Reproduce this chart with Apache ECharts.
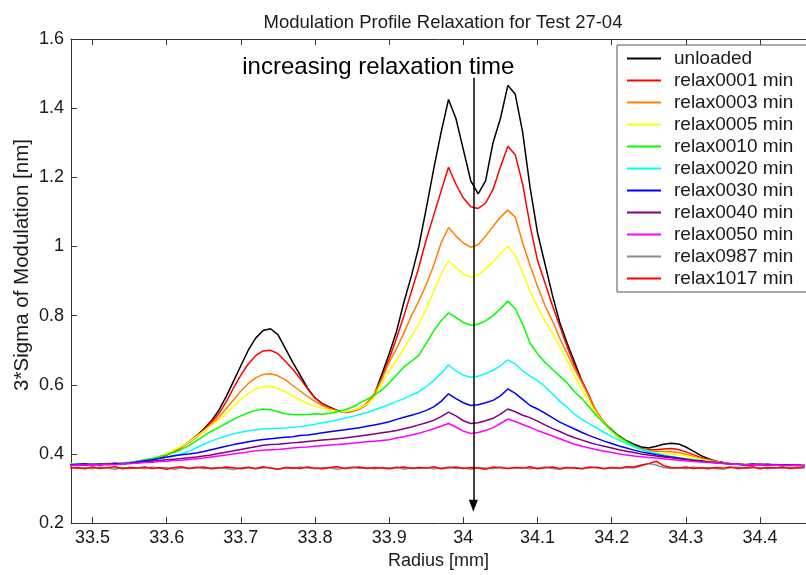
<!DOCTYPE html>
<html>
<head>
<meta charset="utf-8">
<script src="https://cdn.jsdelivr.net/npm/echarts@6/dist/echarts.min.js"></script>
<style>html,body{margin:0;padding:0;background:#fff;}#c{width:806px;height:575px;}</style>
</head>
<body>
<div id="c"></div>
<script>
const titleText = "Modulation Profile Relaxation for Test 27-04";
const xName = "Radius [mm]";
const yName = "3*Sigma of Modulation [nm]";
const annotation = "increasing relaxation time";
const arrowX = 34.0135;
const arrowFrom = 1.488;
const arrowTo = 0.25;

const radius = [
33.47,33.48,33.49,33.50,33.51,33.52,33.53,33.54,33.55,33.56,
33.57,33.58,33.59,33.60,33.61,33.62,33.63,33.64,33.65,33.66,
33.67,33.68,33.69,33.70,33.71,33.72,33.73,33.74,33.75,33.76,
33.77,33.78,33.79,33.80,33.81,33.82,33.83,33.84,33.85,33.86,
33.87,33.88,33.89,33.90,33.91,33.92,33.93,33.94,33.95,33.96,
33.97,33.98,33.99,34.00,34.01,34.02,34.03,34.04,34.05,34.06,
34.07,34.08,34.09,34.10,34.11,34.12,34.13,34.14,34.15,34.16,
34.17,34.18,34.19,34.20,34.21,34.22,34.23,34.24,34.25,34.26,
34.27,34.28,34.29,34.30,34.31,34.32,34.33,34.34,34.35,34.36,
34.37,34.38,34.39,34.40,34.41,34.42,34.43,34.44,34.45,34.46];

const seriesNames = ["unloaded","relax0001 min","relax0003 min","relax0005 min","relax0010 min","relax0020 min","relax0030 min","relax0040 min","relax0050 min","relax0987 min","relax1017 min"];
const seriesColors = ["#000000","#ff0000","#ff8000","#ffff00","#00ff00","#00ffff","#0000ff","#800080","#ff00ff","#8c8c8c","#ff0000"];

const unloaded = [
0.370,0.368,0.371,0.369,0.372,0.370,0.372,0.371,0.374,0.376,
0.379,0.383,0.390,0.398,0.408,0.420,0.435,0.452,0.472,0.495,
0.525,0.565,0.610,0.655,0.700,0.735,0.757,0.762,0.745,0.705,
0.665,0.628,0.590,0.562,0.545,0.535,0.526,0.521,0.524,0.531,
0.545,0.572,0.630,0.690,0.755,0.840,0.915,1.000,1.110,1.224,
1.330,1.425,1.370,1.280,1.190,1.152,1.190,1.300,1.370,1.466,
1.440,1.330,1.170,1.040,0.950,0.860,0.780,0.720,0.665,0.610,
0.565,0.515,0.490,0.470,0.452,0.438,0.428,0.420,0.417,0.422,
0.428,0.431,0.429,0.420,0.408,0.396,0.386,0.380,0.375,0.372,
0.371,0.369,0.370,0.368,0.369,0.367,0.368,0.369,0.367,0.368];

const relax0001 = [
0.369,0.371,0.368,0.370,0.372,0.369,0.371,0.373,0.372,0.375,
0.378,0.382,0.389,0.397,0.407,0.419,0.434,0.451,0.470,0.492,
0.515,0.550,0.590,0.628,0.660,0.684,0.698,0.700,0.690,0.668,
0.645,0.618,0.588,0.562,0.545,0.533,0.525,0.520,0.523,0.530,
0.543,0.568,0.620,0.675,0.735,0.800,0.870,0.940,1.020,1.090,
1.160,1.229,1.180,1.140,1.115,1.110,1.125,1.165,1.230,1.290,
1.265,1.180,1.060,0.960,0.895,0.830,0.770,0.710,0.655,0.610,
0.565,0.520,0.490,0.466,0.448,0.433,0.423,0.416,0.412,0.412,
0.414,0.416,0.413,0.406,0.398,0.390,0.384,0.379,0.375,0.372,
0.370,0.371,0.368,0.370,0.369,0.367,0.369,0.368,0.366,0.368];

const relax0003 = [
0.371,0.369,0.370,0.372,0.368,0.371,0.373,0.370,0.374,0.376,
0.379,0.384,0.391,0.399,0.409,0.420,0.433,0.448,0.465,0.485,
0.505,0.530,0.556,0.582,0.604,0.620,0.630,0.632,0.626,0.614,
0.598,0.582,0.566,0.552,0.540,0.531,0.524,0.521,0.524,0.530,
0.548,0.575,0.615,0.665,0.705,0.750,0.800,0.842,0.890,0.945,
1.010,1.055,1.030,1.010,0.998,1.005,1.030,1.058,1.085,1.105,
1.085,1.010,0.945,0.885,0.830,0.785,0.735,0.690,0.645,0.605,
0.562,0.522,0.492,0.466,0.447,0.432,0.421,0.414,0.410,0.408,
0.407,0.406,0.404,0.399,0.393,0.387,0.382,0.378,0.375,0.372,
0.371,0.369,0.370,0.368,0.370,0.368,0.367,0.369,0.368,0.367];

const relax0005 = [
0.372,0.369,0.371,0.370,0.373,0.371,0.372,0.374,0.373,0.376,
0.380,0.385,0.392,0.401,0.412,0.422,0.435,0.450,0.466,0.482,
0.498,0.518,0.538,0.558,0.575,0.588,0.595,0.596,0.590,0.580,
0.568,0.556,0.546,0.538,0.532,0.527,0.523,0.522,0.526,0.532,
0.543,0.565,0.605,0.640,0.672,0.705,0.740,0.775,0.820,0.870,
0.920,0.958,0.940,0.920,0.911,0.918,0.935,0.955,0.980,1.000,
0.975,0.925,0.870,0.825,0.785,0.750,0.710,0.670,0.625,0.585,
0.550,0.515,0.488,0.465,0.448,0.433,0.421,0.412,0.406,0.403,
0.401,0.400,0.398,0.395,0.390,0.385,0.381,0.377,0.374,0.372,
0.370,0.371,0.369,0.368,0.370,0.367,0.369,0.368,0.367,0.368];

const relax0010 = [
0.370,0.372,0.369,0.371,0.370,0.373,0.371,0.374,0.376,0.379,
0.383,0.387,0.392,0.398,0.404,0.413,0.424,0.438,0.452,0.465,
0.476,0.488,0.500,0.510,0.519,0.526,0.530,0.528,0.522,0.516,
0.514,0.513,0.514,0.516,0.515,0.518,0.522,0.527,0.535,0.547,
0.558,0.570,0.585,0.605,0.628,0.652,0.668,0.685,0.720,0.756,
0.785,0.808,0.795,0.780,0.772,0.775,0.785,0.800,0.820,0.842,
0.820,0.775,0.720,0.690,0.665,0.645,0.625,0.605,0.580,0.560,
0.535,0.510,0.488,0.468,0.450,0.436,0.424,0.414,0.407,0.400,
0.396,0.392,0.389,0.386,0.383,0.380,0.377,0.375,0.373,0.371,
0.370,0.368,0.371,0.369,0.368,0.370,0.367,0.369,0.368,0.367];

const relax0020 = [
0.369,0.371,0.370,0.372,0.369,0.372,0.371,0.373,0.375,0.378,
0.381,0.384,0.387,0.390,0.394,0.400,0.408,0.418,0.428,0.437,
0.445,0.452,0.458,0.463,0.467,0.470,0.472,0.473,0.474,0.475,
0.477,0.479,0.482,0.486,0.490,0.494,0.498,0.503,0.508,0.514,
0.520,0.527,0.535,0.543,0.552,0.560,0.570,0.580,0.595,0.612,
0.632,0.658,0.640,0.628,0.622,0.625,0.632,0.642,0.655,0.672,
0.660,0.640,0.625,0.612,0.595,0.575,0.552,0.535,0.515,0.500,
0.487,0.475,0.462,0.450,0.440,0.430,0.421,0.413,0.407,0.401,
0.396,0.392,0.389,0.385,0.382,0.379,0.377,0.375,0.373,0.371,
0.370,0.369,0.371,0.368,0.370,0.368,0.367,0.369,0.368,0.367];

const relax0030 = [
0.368,0.370,0.372,0.369,0.371,0.370,0.373,0.372,0.374,0.377,
0.380,0.383,0.387,0.391,0.395,0.398,0.400,0.403,0.407,0.412,
0.417,0.422,0.427,0.431,0.435,0.439,0.442,0.444,0.446,0.448,
0.450,0.453,0.455,0.458,0.461,0.464,0.467,0.470,0.473,0.476,
0.480,0.484,0.488,0.493,0.500,0.506,0.512,0.518,0.526,0.536,
0.552,0.574,0.560,0.548,0.540,0.542,0.548,0.555,0.568,0.588,
0.575,0.558,0.540,0.530,0.518,0.505,0.492,0.482,0.472,0.462,
0.453,0.445,0.437,0.430,0.423,0.417,0.411,0.406,0.402,0.398,
0.394,0.391,0.388,0.385,0.382,0.380,0.377,0.375,0.373,0.372,
0.370,0.368,0.371,0.369,0.370,0.368,0.367,0.369,0.368,0.366];

const relax0040 = [
0.367,0.369,0.368,0.370,0.369,0.371,0.370,0.372,0.373,0.375,
0.377,0.379,0.381,0.383,0.385,0.387,0.389,0.391,0.394,0.397,
0.401,0.405,0.409,0.413,0.417,0.421,0.425,0.427,0.428,0.430,
0.432,0.434,0.436,0.438,0.440,0.442,0.444,0.446,0.449,0.452,
0.455,0.458,0.461,0.464,0.468,0.473,0.478,0.484,0.490,0.497,
0.508,0.521,0.510,0.496,0.488,0.490,0.496,0.503,0.515,0.530,
0.522,0.512,0.505,0.495,0.484,0.474,0.465,0.455,0.447,0.440,
0.433,0.427,0.422,0.417,0.412,0.408,0.404,0.400,0.397,0.394,
0.391,0.389,0.386,0.384,0.381,0.379,0.377,0.375,0.373,0.371,
0.370,0.369,0.368,0.370,0.368,0.369,0.367,0.368,0.367,0.366];

const relax0050 = [
0.366,0.368,0.367,0.369,0.368,0.370,0.369,0.371,0.372,0.373,
0.375,0.376,0.378,0.379,0.381,0.382,0.384,0.386,0.388,0.391,
0.394,0.397,0.400,0.403,0.406,0.409,0.411,0.412,0.413,0.415,
0.417,0.419,0.420,0.422,0.424,0.426,0.427,0.429,0.431,0.433,
0.435,0.437,0.439,0.441,0.446,0.450,0.455,0.460,0.466,0.473,
0.480,0.488,0.478,0.466,0.459,0.462,0.468,0.476,0.488,0.501,
0.494,0.485,0.477,0.468,0.460,0.452,0.444,0.436,0.428,0.422,
0.417,0.412,0.408,0.404,0.400,0.397,0.394,0.392,0.390,0.388,
0.386,0.384,0.382,0.380,0.378,0.377,0.375,0.374,0.372,0.371,
0.370,0.369,0.368,0.369,0.367,0.368,0.366,0.367,0.368,0.366];

const relax0987 = [
0.361,0.358,0.360,0.357,0.362,0.359,0.356,0.361,0.358,0.360,
0.357,0.362,0.359,0.361,0.356,0.360,0.358,0.362,0.357,0.359,
0.361,0.358,0.355,0.360,0.362,0.357,0.359,0.361,0.356,0.360,
0.358,0.362,0.359,0.357,0.361,0.360,0.356,0.359,0.362,0.358,
0.360,0.357,0.361,0.359,0.362,0.356,0.360,0.358,0.361,0.357,
0.359,0.362,0.358,0.360,0.356,0.361,0.359,0.357,0.362,0.358,
0.360,0.361,0.357,0.359,0.362,0.358,0.356,0.360,0.361,0.358,
0.359,0.362,0.357,0.360,0.358,0.361,0.359,0.366,0.372,0.368,
0.361,0.358,0.360,0.357,0.362,0.359,0.361,0.358,0.356,0.360,
0.362,0.358,0.359,0.361,0.357,0.360,0.358,0.362,0.359,0.361];

const relax1017 = [
0.359,0.361,0.357,0.362,0.358,0.360,0.363,0.357,0.361,0.359,
0.362,0.358,0.360,0.356,0.361,0.363,0.358,0.360,0.362,0.357,
0.359,0.362,0.360,0.357,0.361,0.358,0.363,0.359,0.356,0.361,
0.360,0.358,0.362,0.359,0.357,0.361,0.363,0.358,0.360,0.362,
0.358,0.361,0.359,0.357,0.360,0.362,0.358,0.361,0.359,0.363,
0.357,0.360,0.362,0.358,0.361,0.359,0.356,0.362,0.360,0.358,
0.361,0.359,0.363,0.357,0.360,0.362,0.358,0.361,0.359,0.357,
0.362,0.360,0.358,0.361,0.359,0.363,0.362,0.368,0.372,0.379,
0.366,0.361,0.359,0.362,0.358,0.360,0.357,0.361,0.359,0.362,
0.358,0.360,0.363,0.357,0.361,0.359,0.362,0.358,0.360,0.361];

const seriesValues = [unloaded, relax0001, relax0003, relax0005, relax0010, relax0020, relax0030, relax0040, relax0050, relax0987, relax1017];

const FONT = "Liberation Sans";
const TXT = "#1a1a1a";
const chart = echarts.init(document.getElementById('c'), null, {renderer: 'canvas'});

const series = seriesNames.map((name, k) => ({
  name: name,
  type: 'line',
  data: radius.map((r, i) => [r, seriesValues[k][i]]),
  symbol: 'none',
  showSymbol: false,
  lineStyle: {color: seriesColors[k], width: 1.5},
  itemStyle: {color: seriesColors[k]},
  emphasis: {disabled: true},
  z: 2
}));

series.push({
  type: 'line',
  data: [],
  silent: true,
  z: 5,
  markLine: {
    silent: true,
    symbol: ['none', 'triangle'],
    symbolSize: [9, 12],
    label: {show: false},
    lineStyle: {color: '#000', width: 1.5, type: 'solid'},
    data: [[{coord: [arrowX, arrowFrom]}, {coord: [arrowX, arrowTo]}]],
    z: 5
  }
});

const xCommon = {
  type: 'value', min: 33.471, max: 34.462, splitNumber: 10,
  splitLine: {show: false},
  axisLine: {show: true, onZero: false, lineStyle: {color: '#333', width: 1}},
  axisTick: {show: true, inside: true, length: 6, lineStyle: {color: '#333'}}
};

chart.setOption({
  animation: false,
  backgroundColor: '#fff',
  title: {
    text: titleText, left: 438, top: 8, textAlign: 'center',
    textStyle: {fontFamily: FONT, fontSize: 18.5, fontWeight: 'normal', color: TXT}
  },
  grid: {left: 71, top: 39, right: 0, bottom: 48, containLabel: false},
  legend: {
    data: seriesNames.map((n, k) => ({name: n, icon: 'rect', itemStyle: {color: seriesColors[k]}})),
    orient: 'vertical',
    left: 617, top: 45,
    padding: [4, 40, 4, 10],
    itemWidth: 34, itemHeight: 2, itemGap: 3,
    backgroundColor: '#fff',
    borderColor: '#555', borderWidth: 1, borderRadius: 0,
    textStyle: {fontFamily: FONT, fontSize: 19, color: TXT, padding: [0, 0, 0, 8]},
    selectedMode: false,
    z: 10
  },
  xAxis: [
    Object.assign({}, xCommon, {
      position: 'bottom',
      name: xName, nameLocation: 'middle', nameGap: 23,
      nameTextStyle: {fontFamily: FONT, fontSize: 18, color: TXT},
      axisLabel: {fontFamily: FONT, fontSize: 18, color: TXT, margin: 6, showMinLabel: false, showMaxLabel: false}
    }),
    Object.assign({}, xCommon, {
      position: 'top',
      axisLabel: {show: false}
    })
  ],
  yAxis: {
    type: 'value', min: 0.2, max: 1.6, interval: 0.2,
    splitLine: {show: false},
    axisLine: {show: true, lineStyle: {color: '#333', width: 1}},
    axisTick: {show: true, inside: true, length: 6, lineStyle: {color: '#333'}},
    axisLabel: {fontFamily: FONT, fontSize: 18, color: TXT, margin: 7}
  },
  series: series
});

const p = chart.convertToPixel({xAxisIndex: 0, yAxisIndex: 0}, [arrowX, arrowFrom]);
chart.setOption({
  graphic: [{
    type: 'text',
    x: p[0] - 95,
    y: p[1] - 10,
    style: {
      text: annotation, fontFamily: FONT, fontSize: 24, fill: '#000',
      textAlign: 'center', textVerticalAlign: 'middle'
    },
    z: 20
  }, {
    type: 'text',
    x: 22,
    y: 265,
    rotation: Math.PI / 2,
    style: {
      text: yName, fontFamily: FONT, fontSize: 20.5, fill: TXT,
      textAlign: 'center', textVerticalAlign: 'middle'
    },
    z: 20
  }]
});
</script>
</body>
</html>
